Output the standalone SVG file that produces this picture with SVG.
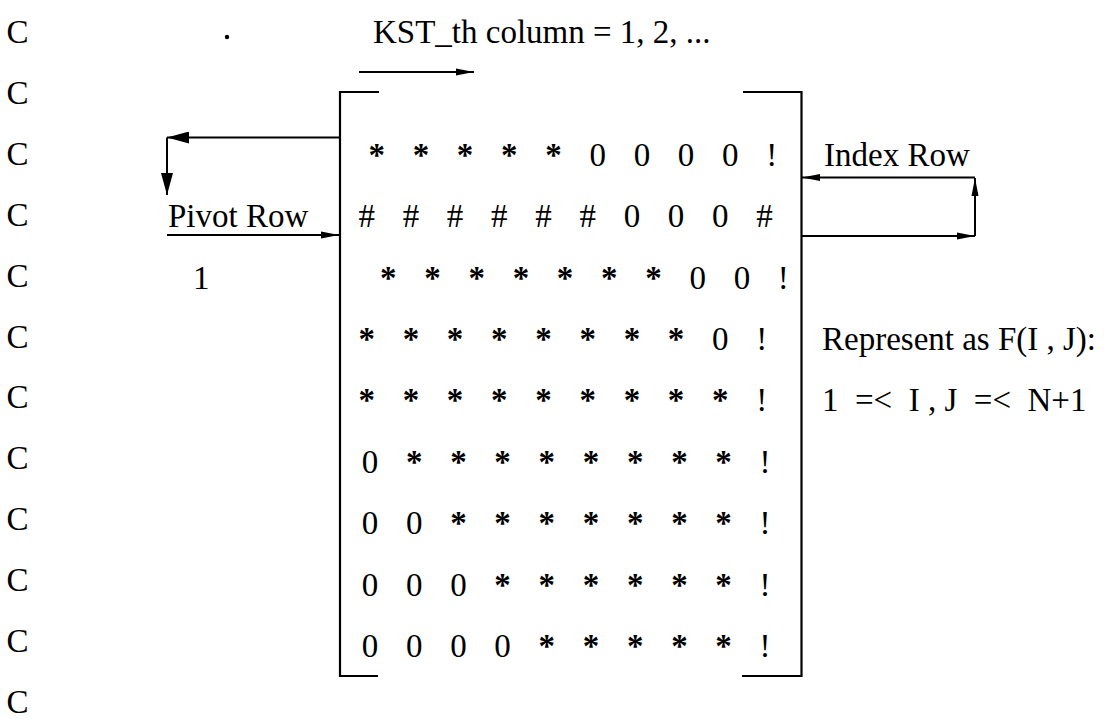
<svg xmlns="http://www.w3.org/2000/svg" width="1104" height="719" viewBox="0 0 1104 719">
  <defs>
    <style>
      text { font-family: "Liberation Serif", "Times New Roman", serif; font-size: 33px; fill: #000; }
      .row { letter-spacing: 9.725px; }
      .s { font-weight: bold; }
      .pre { white-space: pre; }
      .wire { fill: none; stroke: #000; stroke-width: 2; }
      .bracket { fill: none; stroke: #000; stroke-width: 2.2; }
    </style>
    <marker id="headBig" viewBox="0 0 22 12" refX="22" refY="6" markerWidth="22" markerHeight="12" markerUnits="userSpaceOnUse" orient="auto">
      <path d="M0,0 L22,6 L0,12 Z" fill="#000"/>
    </marker>
    <marker id="headSlim" viewBox="0 0 18 8" refX="18" refY="4" markerWidth="18" markerHeight="8" markerUnits="userSpaceOnUse" orient="auto">
      <path d="M0,0.5 L18,4 L0,7.5 Z" fill="#000"/>
    </marker>
  </defs>

  <rect width="1104" height="719" fill="#fff"/>

  <!-- comment-card column -->
  <g id="comment-column">
    <text x="6.5" y="43">C</text>
    <text x="6.5" y="103.9">C</text>
    <text x="6.5" y="164.8">C</text>
    <text x="6.5" y="225.7">C</text>
    <text x="6.5" y="286.6">C</text>
    <text x="6.5" y="347.5">C</text>
    <text x="6.5" y="408.4">C</text>
    <text x="6.5" y="469.3">C</text>
    <text x="6.5" y="530.2">C</text>
    <text x="6.5" y="591.1">C</text>
    <text x="6.5" y="652">C</text>
    <text x="6.5" y="712.5">C</text>
  </g>

  <circle cx="227" cy="37" r="2.2" fill="#000"/>

  <!-- column label -->
  <g id="label-kst">
    <text x="373" y="43">KST_th column = 1, 2, ...</text>
  </g>

  <!-- the bracketed matrix -->
  <g id="matrix">
    <path class="bracket" d="M379,92 H340 V676 H378"/>
    <path class="bracket" d="M743,92 H801.5 V676 H742"/>
    <text class="row" x="368.45" y="165.8"><tspan class="s">* * * * *</tspan> 0 0 0 0 !</text>
    <text class="row" x="358.45" y="227.2"># # # # # # 0 0 0 #</text>
    <text class="row" x="380.05" y="288.6"><tspan class="s">* * * * * * *</tspan> 0 0 !</text>
    <text class="row" x="358.45" y="350"><tspan class="s">* * * * * * * *</tspan> 0 !</text>
    <text class="row" x="358.45" y="411.4"><tspan class="s">* * * * * * * * *</tspan> !</text>
    <text class="row" x="361.75" y="472.8">0 <tspan class="s">* * * * * * * *</tspan> !</text>
    <text class="row" x="361.75" y="534.2">0 0 <tspan class="s">* * * * * * *</tspan> !</text>
    <text class="row" x="361.75" y="595.6">0 0 0 <tspan class="s">* * * * * *</tspan> !</text>
    <text class="row" x="361.75" y="657">0 0 0 0 <tspan class="s">* * * * *</tspan> !</text>
  </g>

  <g id="label-pivot">
    <text x="168" y="227">Pivot Row</text>
    <text x="193" y="288.6">1</text>
  </g>

  <g id="label-index">
    <text x="824" y="165.8">Index Row</text>
  </g>

  <g id="label-represent">
    <text x="822" y="350">Represent as F(I , J):</text>
    <text class="pre" x="822" y="411.4">1  =&lt;  I , J  =&lt;  N+1</text>
  </g>

  <!-- arrows -->
  <g id="connectors">
    <path class="wire" d="M359,72 H474" marker-end="url(#headSlim)"/>
    <path class="wire" d="M340,137.5 H167" marker-end="url(#headBig)"/>
    <path class="wire" d="M167,137.5 V195" marker-end="url(#headBig)"/>
    <path class="wire" d="M167,235 H339" marker-end="url(#headSlim)"/>
    <path class="wire" d="M802,236 H975" marker-end="url(#headSlim)"/>
    <path class="wire" d="M975,236 V178" marker-end="url(#headSlim)"/>
    <path class="wire" d="M975,177.5 H802" marker-end="url(#headSlim)"/>
  </g>
</svg>
